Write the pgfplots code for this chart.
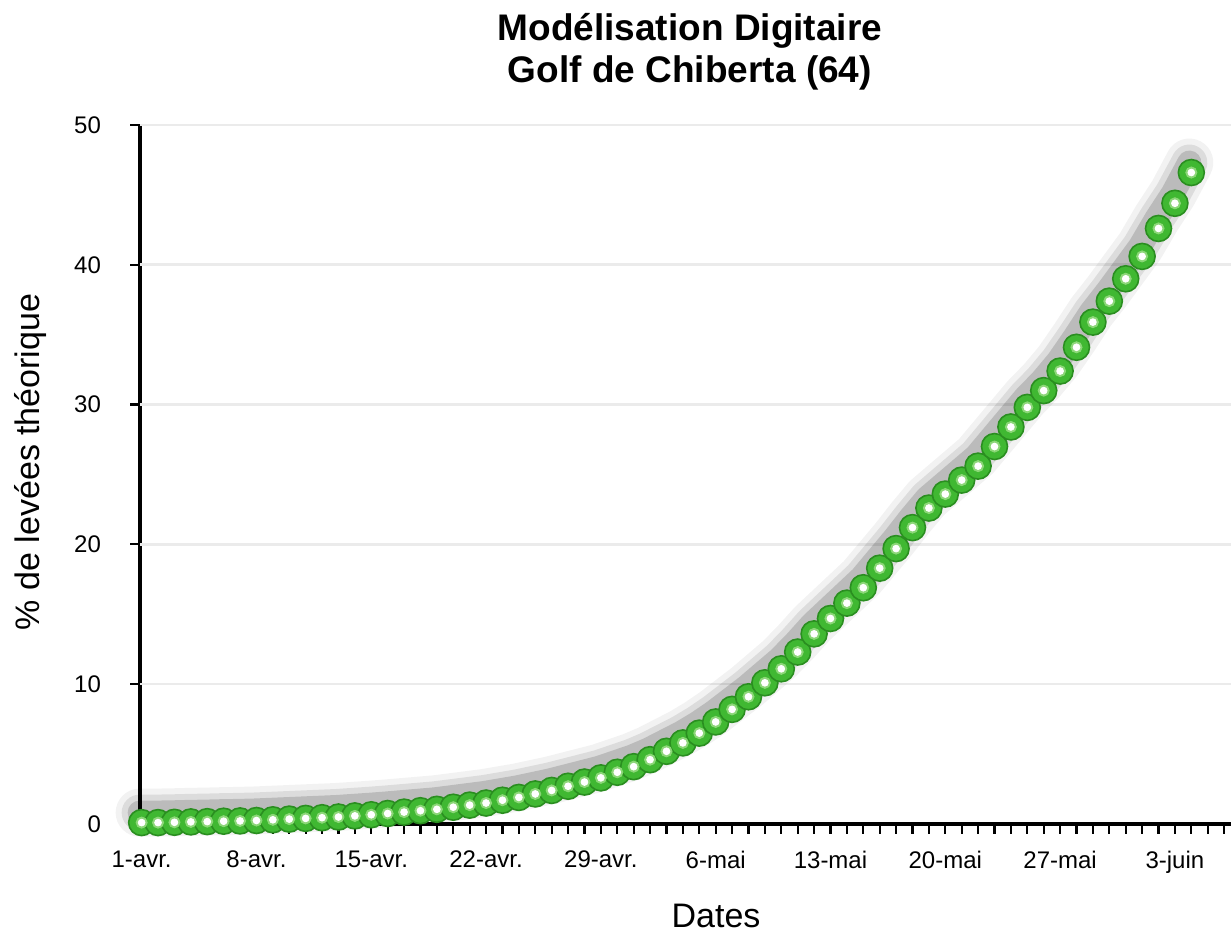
\documentclass[border=0pt]{standalone}
\usepackage{fontspec}
\setmainfont{Liberation Sans}
\usepackage{pgfplots}
\usepackage{pgfplotstable}
\pgfplotsset{compat=1.18}
\definecolor{bille}{RGB}{64,184,50}
\definecolor{billebord}{RGB}{42,142,32}
\definecolor{billeclair}{RGB}{140,215,120}

% % de levees theorique, un point par jour depuis le 1er avril
\pgfplotstableread{
jour val
0 0.10
1 0.10
2 0.12
3 0.15
4 0.17
5 0.20
6 0.22
7 0.25
8 0.30
9 0.35
10 0.40
11 0.45
12 0.50
13 0.58
14 0.66
15 0.75
16 0.85
17 0.95
18 1.05
19 1.20
20 1.35
21 1.50
22 1.70
23 1.90
24 2.15
25 2.40
26 2.70
27 3.00
28 3.30
29 3.70
30 4.10
31 4.60
32 5.20
33 5.80
34 6.50
35 7.30
36 8.20
37 9.10
38 10.1
39 11.1
40 12.3
41 13.6
42 14.7
43 15.8
44 16.9
45 18.3
46 19.7
47 21.2
48 22.6
49 23.6
50 24.6
51 25.6
52 27.0
53 28.4
54 29.8
55 31.0
56 32.4
57 34.1
58 35.9
59 37.4
60 39.0
61 40.6
62 42.6
63 44.4
64 46.6
}\levees

\begin{document}
\begin{tikzpicture}
\begin{axis}[
  at={(70pt,55.5pt)}, anchor=south west,
  scale only axis, width=545.5pt, height=349.5pt,
  xmin=-0.1, xmax=66.42, ymin=0, ymax=50,
  clip=false,
  axis lines*=left,
  x axis line style={line width=1.8pt, black},
  y axis line style={line width=1.8pt, black},
  xtick={0,7,...,63},
  xticklabels={1-avr.,8-avr.,15-avr.,22-avr.,29-avr.,6-mai,13-mai,20-mai,27-mai,3-juin},
  minor xtick={0,1,...,66},
  ytick={0,10,...,50},
  tick align=outside,
  major tick length=5pt, minor tick length=5pt,
  tick style={black, line width=1.1pt},
  extra y ticks={10,20,30,40,50},
  extra y tick labels={},
  extra y tick style={grid=major, major tick length=0pt},
  grid style={gray!16, line width=1.3pt},
  ticklabel style={font=\fontsize{12}{14}\selectfont},
  xticklabel style={yshift=-5pt},
  yticklabel style={xshift=-11pt},
  /pgf/number format/assume math mode=true,
  title={Modélisation Digitaire\\Golf de Chiberta (64)},
  every axis title/.style={at={(rel axis cs:0.504,1.105)}, anchor=center, align=center,
    font=\bfseries\fontsize{18.5}{21}\selectfont},
  xlabel={Dates},
  ylabel={\% de levées théorique},
  every axis x label/.style={at={(rel axis cs:0.528,-0.131)}, anchor=center,
    font=\fontsize{17}{20}\selectfont},
  every axis y label/.style={at={(rel axis cs:-0.0999,0.518)}, anchor=center, rotate=90,
    font=\fontsize{17}{20}\selectfont},
]
% ombre floue
\addplot[no marks, line width=24pt, black, opacity=0.05, line cap=round, line join=round, xshift=-1pt, yshift=5pt] table[x=jour, y=val] {\levees};
\addplot[no marks, line width=18pt, black, opacity=0.09, line cap=round, line join=round, xshift=-1pt, yshift=5pt] table[x=jour, y=val] {\levees};
\addplot[no marks, line width=12pt, black, opacity=0.15, line cap=round, line join=round, xshift=-1pt, yshift=5pt] table[x=jour, y=val] {\levees};
% billes
\addplot[only marks, mark=*, mark size=6.5pt, mark options={fill=bille, draw=billebord, line width=0.8pt}] table[x=jour, y=val] {\levees};
\addplot[only marks, mark=*, mark size=2.8pt, billeclair] table[x=jour, y=val] {\levees};
\addplot[only marks, mark=*, mark size=1.7pt, white] table[x=jour, y=val] {\levees};
\end{axis}
\pgfresetboundingbox
\path[use as bounding box] (0,0) rectangle (615.5pt,467.5pt);
\end{tikzpicture}
\end{document}
